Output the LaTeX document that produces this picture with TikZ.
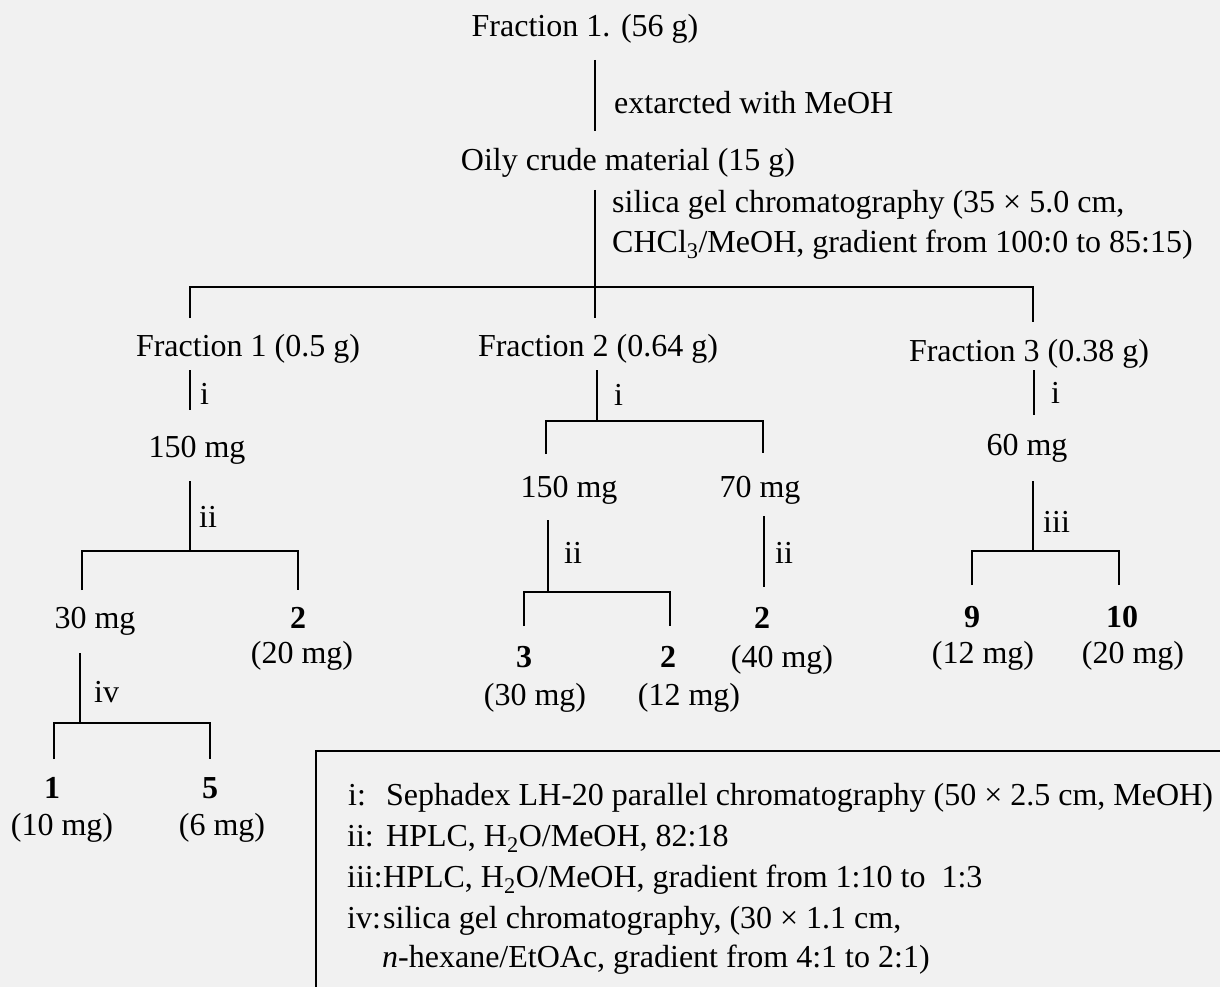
\documentclass[tikz,border=0pt]{standalone}
\usepackage{fontspec}
\setmainfont{Liberation Serif}
\definecolor{bg}{RGB}{241,241,241}
\begin{document}
\begin{tikzpicture}[x=1pt,y=-1pt,
  t/.style={font=\fontsize{32}{38}\selectfont, inner sep=0pt, anchor=base},
  tl/.style={t, anchor=base west},
  ln/.style={line width=1.8pt}]
\fill[bg] (0,0) rectangle (1220,987);
\path[use as bounding box] (0,0) rectangle (1220,987);

% top
\node[t] (f0) at (585,37) {Fraction 1. (56 g)};
\coordinate (a1) at (595,60); \coordinate (a2) at (595,131);
\draw[ln] (a1) -- (a2);
\node[tl] (lab0) at (614,114) {extarcted with MeOH};
\node[t] (oily) at (628,171) {Oily crude material (15 g)};
\coordinate (b1) at (595,190); \coordinate (b2) at (595,287); \coordinate (b3) at (595,318);
\draw[ln] (b1) -- (b3);
\node[tl] (labs1) at (612,212) {silica gel chromatography (35 × 5.0 cm,};
\node[tl] (labs2) at (612,252) {CHCl\textsubscript{3}/MeOH, gradient from 100:0 to 85:15)};
\coordinate (h1l) at (190,287); \coordinate (h1r) at (1033,287);
\coordinate (d1) at (190,318); \coordinate (d3) at (1033,322);
\draw[ln] (d1) -- (h1l) -- (h1r) -- (d3);

\node[t] (fr1) at (248,356) {Fraction 1 (0.5 g)};
\node[t] (fr2) at (598,356) {Fraction 2 (0.64 g)};
\node[t] (fr3) at (1029,361) {Fraction 3 (0.38 g)};

% column 1
\coordinate (c1a) at (190,370); \coordinate (c1b) at (190,410);
\draw[ln] (c1a) -- (c1b);
\node[tl] (c1i) at (200,404) {i};
\node[t] (c1m) at (197,457) {150 mg};
\coordinate (c1c) at (190,481); \coordinate (c1d) at (190,551);
\draw[ln] (c1c) -- (c1d);
\node[tl] (c1ii) at (199,527) {ii};
\coordinate (c1hl) at (82,551); \coordinate (c1hr) at (298,551);
\coordinate (c1dl) at (82,590); \coordinate (c1dr) at (298,590);
\draw[ln] (c1dl) -- (c1hl) -- (c1hr) -- (c1dr);
\node[t] (c1m30) at (95,628) {30 mg};
\node[t] (c1n2) at (298,628) {\textbf{2}};
\node[t] (c1n2m) at (302,663) {(20 mg)};
\coordinate (c1e) at (80,653); \coordinate (c1f) at (80,723);
\draw[ln] (c1e) -- (c1f);
\node[tl] (c1iv) at (94,702) {iv};
\coordinate (c1gl) at (54,723); \coordinate (c1gr) at (210,723);
\coordinate (c1el) at (54,759); \coordinate (c1er) at (210,759);
\draw[ln] (c1el) -- (c1gl) -- (c1gr) -- (c1er);
\node[t] (c1n1) at (52,798) {\textbf{1}};
\node[t] (c1n1m) at (62,835) {(10 mg)};
\node[t] (c1n5) at (210,798) {\textbf{5}};
\node[t] (c1n5m) at (222,835) {(6 mg)};

% column 2
\coordinate (c2a) at (597,370); \coordinate (c2b) at (597,421);
\draw[ln] (c2a) -- (c2b);
\node[tl] (c2i) at (614,405) {i};
\coordinate (c2hl) at (546,421); \coordinate (c2hr) at (763,421);
\coordinate (c2dl) at (546,454); \coordinate (c2dr) at (763,453);
\draw[ln] (c2dl) -- (c2hl) -- (c2hr) -- (c2dr);
\node[t] (c2m150) at (569,497) {150 mg};
\node[t] (c2m70) at (760,497) {70 mg};
\coordinate (c2c) at (548,520); \coordinate (c2d) at (548,592);
\draw[ln] (c2c) -- (c2d);
\node[tl] (c2iia) at (564,563) {ii};
\coordinate (c2e) at (764,516); \coordinate (c2f) at (764,587);
\draw[ln] (c2e) -- (c2f);
\node[tl] (c2iib) at (775,563) {ii};
\coordinate (c2gl) at (524,592); \coordinate (c2gr) at (670,592);
\coordinate (c2el) at (524,626); \coordinate (c2er) at (670,626);
\draw[ln] (c2el) -- (c2gl) -- (c2gr) -- (c2er);
\node[t] (c2n3) at (524,667) {\textbf{3}};
\node[t] (c2n3m) at (535,705) {(30 mg)};
\node[t] (c2n2) at (668,667) {\textbf{2}};
\node[t] (c2n2m) at (689,705) {(12 mg)};
\node[t] (c2n2b) at (762,628) {\textbf{2}};
\node[t] (c2n2bm) at (782,667) {(40 mg)};

% column 3
\coordinate (c3a) at (1034,370); \coordinate (c3b) at (1034,415);
\draw[ln] (c3a) -- (c3b);
\node[tl] (c3i) at (1051,403) {i};
\node[t] (c3m) at (1027,455) {60 mg};
\coordinate (c3c) at (1033,481); \coordinate (c3d) at (1033,551);
\draw[ln] (c3c) -- (c3d);
\node[tl] (c3iii) at (1043,532) {iii};
\coordinate (c3hl) at (972,551); \coordinate (c3hr) at (1119,551);
\coordinate (c3dl) at (972,585); \coordinate (c3dr) at (1119,585);
\draw[ln] (c3dl) -- (c3hl) -- (c3hr) -- (c3dr);
\node[t] (c3n9) at (972,627) {\textbf{9}};
\node[t] (c3n9m) at (983,663) {(12 mg)};
\node[t] (c3n10) at (1122,627) {\textbf{10}};
\node[t] (c3n10m) at (1133,663) {(20 mg)};

% legend
\coordinate (lg1) at (316,987); \coordinate (lg2) at (316,751); \coordinate (lg3) at (1220,751);
\draw[ln] (lg1) -- (lg2) -- (lg3);
\node[tl] (k1) at (348,805) {i:};
\node[tl] (v1) at (386,805) {Sephadex LH-20 parallel chromatography (50 × 2.5 cm, MeOH)};
\node[tl] (k2) at (347,846) {ii:};
\node[tl] (v2) at (386,846) {HPLC, H\textsubscript{2}O/MeOH, 82:18};
\node[tl] (k3) at (347,887) {iii:};
\node[tl] (v3) at (383,887) {HPLC, H\textsubscript{2}O/MeOH, gradient from 1:10 to \ 1:3};
\node[tl] (k4) at (347,928) {iv:};
\node[tl] (v4) at (383,928) {silica gel chromatography, (30 × 1.1 cm,};
\node[tl] (v5) at (382,967) {\textit{n}-hexane/EtOAc, gradient from 4:1 to 2:1)};
\end{tikzpicture}
\end{document}
